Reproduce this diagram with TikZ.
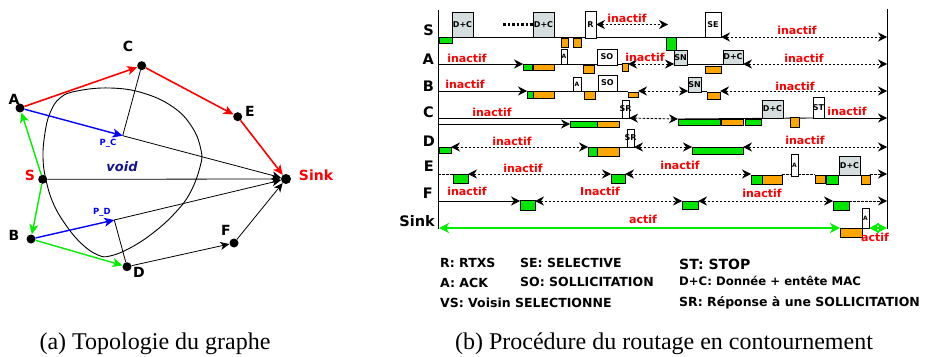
\documentclass[tikz,border=0pt]{standalone}
\usepackage{fontspec}
\setmainfont{DejaVu Sans}
\newfontfamily\capfont{Liberation Serif}
\usetikzlibrary{arrows.meta,backgrounds}
\definecolor{gG}{RGB}{0,230,0}
\definecolor{gL}{RGB}{0,240,0}
\definecolor{oO}{RGB}{250,165,0}
\definecolor{bG}{RGB}{213,222,222}
\definecolor{rR}{RGB}{255,0,0}
\definecolor{nv}{RGB}{20,20,140}
\definecolor{bl}{RGB}{0,0,255}
\newcommand\fs[1]{\fontsize{#1}{#1}\selectfont}
\newcommand\bx[7]{%
  \node[#2,minimum width={(#5-#3)*1pt},minimum height={(#6-#4)*1pt}] (#1) at ({(#3+#5)/2},{(#4+#6)/2}) {};
  \if\relax\detokenize{#7}\relax\else\node[btxt] (#1t) at (#1) {#7};\fi}
\begin{document}
\begin{tikzpicture}[x=1pt,y=-1pt,
  dot/.style={circle,fill=black,inner sep=0pt,minimum size=9pt},
  rarr/.style={draw=rR,line width=1.6pt,-{Stealth[length=10pt,width=9pt,inset=2.5pt]}},
  barr/.style={draw=bl,line width=1.4pt,-{Stealth[length=10pt,width=9pt,inset=2.5pt]}},
  garr/.style={draw=gL,line width=1.4pt,-{Stealth[length=10pt,width=9pt,inset=2.5pt]}},
  karr/.style={draw=black,line width=0.8pt,-{Stealth[length=9pt,width=8pt,inset=2.5pt]}},
  thinl/.style={draw=black,line width=0.8pt},
  glab/.style={font=\bfseries\fs{14},inner sep=0pt},
  boxb/.style={draw=black,line width=0.8pt,inner sep=0pt,outer sep=0pt,rectangle},
  gbox/.style={boxb,fill=gG},
  obox/.style={boxb,fill=oO},
  cbox/.style={boxb,fill=bG},
  wbox/.style={boxb,fill=white},
  btxt/.style={font=\bfseries\fs{8},inner sep=0pt},
  base/.style={line width=0.9pt},
  dsh/.style={line width=0.9pt,dash pattern=on 2.5pt off 1.5pt},
  sarr/.style={line width=0.9pt,-{Stealth[length=9pt,width=9pt,inset=3pt]}},
  dsarr/.style={dsh,-{Stealth[length=9pt,width=9pt,inset=3pt]}},
  darr/.style={dsh,{Stealth[length=9pt,width=9pt,inset=3pt]}-{Stealth[length=9pt,width=9pt,inset=3pt]}},
  ddots/.style={line width=2.5pt,dash pattern=on 2.5pt off 2pt},
  gK/.style={draw=gL,line width=2pt,{Stealth[length=10pt,width=10pt,inset=3pt]}-{Stealth[length=10pt,width=10pt,inset=3pt]}},
  ina/.style={font=\bfseries\fs{11},text=rR,anchor=base,inner sep=0pt},
  rl/.style={font=\bfseries\fs{14.5},anchor=east,inner sep=0pt},
  leg/.style={font=\bfseries\fs{12.5},anchor=west,inner sep=0pt},
  capt/.style={font=\capfont\fs{24},anchor=base,inner sep=0pt}]
\useasboundingbox (0,0) rectangle (926,356);

% ---------------- left graph ----------------
\draw[line width=0.9pt] plot[smooth cycle,tension=0.7] coordinates {(110,88) (143,93) (173,107) (192,127) (201,150) (200,167) (190,193) (175,213) (153,233) (130,248) (110,256) (98,255) (83,245) (68,228) (54,205) (46,180) (43,157) (45,133) (50,113) (60,98) (77,91)};
\node[dot] (A) at (20,108) {};
\node[dot] (C) at (141.7,65.7) {};
\node[dot] (E) at (237.7,116.7) {};
\node[dot,minimum size=10pt] (Sk) at (286,179) {};
\node[dot] (S) at (42.7,179.3) {};
\node[dot] (B) at (31,239) {};
\node[dot] (D) at (127,266.7) {};
\node[dot] (F) at (234,243) {};
\coordinate (PC) at (122.7,135.7);
\coordinate (PD) at (114.3,220);
\draw[thinl] (PC) -- (C);
\draw[thinl] (PD) -- (D);
\draw[karr] (PC) -- (Sk);
\draw[karr] (S) -- (Sk);
\draw[karr] (PD) -- (Sk);
\draw[karr] (D) -- (F);
\draw[karr] (F) -- (Sk);
\draw[rarr] (A) -- (C);
\draw[rarr] (C) -- (E);
\draw[rarr] (E) -- (Sk);
\draw[barr] (A) -- (PC);
\draw[barr] (B) -- (PD);
\draw[garr] (S) -- (A);
\draw[garr] (S) -- (B);
\draw[garr] (B) -- (D);
\node[glab] (lC) at (128,46) {C};
\node[glab] (lA) at (14,99) {A};
\node[glab] (lE) at (250,111) {E};
\node[glab,text=rR] (lSk) at (316,175) {Sink};
\node[glab,text=rR] (lS) at (30,175) {S};
\node[glab] (lB) at (14,235) {B};
\node[glab] (lD) at (139,272) {D};
\node[glab] (lF) at (226,230) {F};
\node[font=\bfseries\itshape\fs{13},text=nv,inner sep=0pt] (lvoid) at (122,167) {void};
\node[font=\bfseries\fs{8.5},text=bl,inner sep=0pt] (lPC) at (108,143) {P\_C};
\node[font=\bfseries\fs{8.5},text=bl,inner sep=0pt] (lPD) at (102,212) {P\_D};

% ---------------- timeline ----------------
\coordinate (axT) at (438,10); \coordinate (axB) at (438,229);
\coordinate (axT2) at (887,9); \coordinate (axB2) at (887,229);
\node[rl] (rS) at (434,30) {S};
\node[rl] (rA) at (434,59) {A};
\node[rl] (rB) at (434,86) {B};
\node[rl] (rC) at (434,112) {C};
\node[rl] (rD) at (435,141) {D};
\node[rl] (rE) at (434,166) {E};
\node[rl] (rF) at (433,193) {F};
\node[rl] (rK) at (435,221) {Sink};

% S row
\coordinate (S0) at (438,37); \coordinate (S1) at (887,37);
\coordinate (Sdot) at (503,24.5); \coordinate (Sm) at (668,24.5);
\bx{sg1}{gbox}{439}{37}{452}{43}{}
\bx{sdc1}{cbox}{452}{12}{473}{37}{D+C}
\bx{sdc2}{cbox}{533}{12}{554}{37}{D+C}
\bx{so1}{obox}{561}{38}{568}{47}{}
\bx{so2}{obox}{573}{38}{581}{47}{}
\bx{sR}{wbox}{585}{11}{596}{38}{R}
\bx{sg2}{gbox}{666}{37}{676}{50}{}
\bx{sSE}{wbox}{705}{12}{721}{37}{SE}
\node[ina] (iS1) at (627,22) {inactif};
\node[ina] (iS2) at (797,34) {inactif};

% A row
\coordinate (A0) at (438,64); \coordinate (A1) at (887,64);
\bx{ag1}{gbox}{523}{64}{532}{70}{}
\bx{ao1}{obox}{533}{64}{554}{70}{}
\bx{aA}{wbox}{561}{49}{567}{64}{{\fs{6}A}}
\bx{ao2}{obox}{583}{65}{594}{73}{}
\bx{aSO}{wbox}{597}{49}{617}{65}{SO}
\bx{ao3}{obox}{622}{63}{628}{71}{}
\bx{aSN}{cbox}{674}{50}{687}{65}{SN}
\bx{ao4}{obox}{705}{66}{721}{73}{}
\bx{aDC}{cbox}{723}{50}{743}{64}{D+C}
\node[ina] (iA1) at (467,62) {inactif};
\node[ina] (iA2) at (645,61) {inactif};
\node[ina] (iA3) at (804,62) {inactif};

% B row
\coordinate (B0) at (438,91); \coordinate (B1) at (887,91);
\bx{bg1}{gbox}{527}{91}{533}{98}{}
\bx{bo1}{obox}{533}{91}{554}{98}{}
\bx{bA}{wbox}{573}{77}{581}{91}{{\fs{6}A}}
\bx{bo2}{obox}{584}{91}{595}{99}{}
\bx{bSO}{wbox}{598}{75}{617}{91}{SO}
\bx{bo3}{obox}{628}{92}{638}{97}{}
\bx{bSN}{cbox}{688}{77}{701}{92}{SN}
\bx{bo4}{obox}{707}{92}{720}{99}{}
\node[ina] (iB1) at (465,88) {inactif};
\node[ina] (iB2) at (795,90) {inactif};

% C row
\coordinate (C0) at (438,118); \coordinate (C0b) at (438,124); \coordinate (C1) at (887,118);
\bx{cg1}{gbox}{570}{121}{597}{127}{}
\bx{co1}{obox}{597}{121}{619}{127}{}
\bx{cSR}{wbox}{622}{100}{629}{118}{SR}
\bx{cg2}{gbox}{678}{119}{720}{125}{}
\bx{co2}{obox}{721}{119}{743}{125}{}
\bx{cg3}{gbox}{745}{119}{761}{125}{}
\bx{cDC}{cbox}{762}{100}{783}{118}{D+C}
\bx{co3}{obox}{790}{117}{799}{127}{}
\bx{cST}{wbox}{813}{97}{824}{118}{ST}
\node[ina] (iC1) at (492,116) {inactif};
\node[ina] (iC2) at (847,115) {inactif};

% D row
\coordinate (D0) at (438,147); \coordinate (D1) at (887,147);
\bx{dg1}{gbox}{439}{147}{451}{153}{}
\bx{dg2}{gbox}{588}{147}{597}{156}{}
\bx{do1}{obox}{597}{147}{619}{156}{}
\bx{dSR}{wbox}{627}{129}{634}{147}{SR}
\bx{dg3}{gbox}{692}{147}{743}{154}{}
\node[ina] (iD1) at (512,145) {inactif};
\node[ina] (iD2) at (805,144) {inactif};

% E row
\coordinate (E0) at (438,174); \coordinate (E1) at (887,174);
\bx{eg1}{gbox}{453}{174}{468}{183}{}
\bx{eg2}{gbox}{611}{174}{625}{183}{}
\bx{eg3}{gbox}{751}{175}{762}{184}{}
\bx{eo1}{obox}{762}{175}{782}{184}{}
\bx{eA}{wbox}{791}{154}{798}{176}{{\fs{6}A}}
\bx{eo2}{obox}{815}{175}{825}{183}{}
\bx{eg4}{gbox}{826}{175}{838}{184}{}
\bx{eDC}{cbox}{839}{156}{860}{175}{D+C}
\bx{eo3}{obox}{861}{175}{870}{184}{}
\node[ina] (iE1) at (523,172) {inactif};
\node[ina] (iE2) at (680,169) {inactif};

% F row
\coordinate (F0) at (438,201); \coordinate (F1) at (887,201);
\bx{fg1}{gbox}{520}{200}{535}{210}{}
\bx{fg2}{gbox}{682}{201}{698}{209}{}
\bx{fg3}{gbox}{833}{201}{849}{210}{}
\node[ina] (iF1) at (467,195) {inactif};
\node[ina] (iF2) at (600,195) {Inactif};
\node[ina] (iF3) at (762,197) {inactif};

% Sink row
\coordinate (K0) at (439,228); \coordinate (K1) at (887,228);
\bx{ko}{obox}{840}{228}{862}{237}{}
\bx{kA}{wbox}{862}{208}{869}{228}{{\fs{6}A}}
\node[ina] (iK1) at (643,223) {actif};
\node[ina] (iK2) at (875,241) {actif};

\begin{scope}[on background layer]
  \fill[white] (0,0) rectangle (926,356);
  \draw[line width=1pt] (axT) -- (axB);
  \draw[line width=1pt] (axT2) -- (axB2);
  % S
  \draw[base] (S0) -- (sSE.south west);
  \draw[ddots] (Sdot) -- (sdc2.west);
  \draw[darr] (sR.east) -- (Sm);
  \draw[darr] (sSE.south east) -- (S1);
  % A
  \draw[sarr] (A0) -- (ag1.north west);
  \draw[base] (ao1.north east) -- (ao3.west |- A0);
  \draw[darr] (ao3.east |- A0) -- (aSN.west |- A0);
  \draw[base] (aSN.east |- A0) -- (aDC.south west);
  \draw[darr] (aDC.south east) -- (A1);
  % B
  \draw[sarr] (B0) -- (bg1.north west);
  \draw[base] (bo1.north east) -- (bo3.west |- B0);
  \draw[darr] (bo3.east |- B0) -- (bSN.west |- B0);
  \draw[base] (bSN.east |- B0) -- (bo4.west |- B0);
  \draw[darr] (bo4.east |- B0) -- (B1);
  % C
  \draw[base] (C0) -- (cSR.south west);
  \draw[sarr] (C0b) -- (cg1.west);
  \draw[darr] (cSR.south east) -- (cg2.north west);
  \draw[base] (cg2.north west) -- (cST.south west);
  \draw[sarr] (cST.south east) -- (C1);
  % D
  \draw[base] (D0) -- (dg1.north west);
  \draw[darr] (dg1.north east) -- (dg2.north west);
  \draw[base] (do1.north east) -- (dSR.south west);
  \draw[darr] (dSR.south east) -- (dg3.north west);
  \draw[darr] (dg3.north east) -- (D1);
  % E
  \draw[dsh] (E0) -- (eg1.north west);
  \draw[darr] (eg1.north east) -- (eg2.north west);
  \draw[darr] (eg2.north east) -- (eg3.west |- E0);
  \draw[dsh] (eo1.east |- E0) -- (eA.west |- E0);
  \draw[dsh] (eA.east |- E0) -- (eo2.west |- E0);
  \draw[dsarr] (eo3.east |- E0) -- (E1);
  % F
  \draw[sarr] (F0) -- (fg1.west |- F0);
  \draw[darr] (fg1.east |- F0) -- (fg2.north west);
  \draw[darr] (fg2.north east) -- (fg3.north west);
  \draw[dsarr] (fg3.north east) -- (F1);
  % Sink
  \draw[gK] (K0) -- (ko.north west);
  \draw[gK] (kA.south east) -- (K1);
\end{scope}

% legend
\node[leg] (g1) at (440,263) {R: RTXS};
\node[leg] (g2) at (520,263) {SE: SELECTIVE};
\node[leg,font=\bfseries\fs{14}] (g3) at (679,264) {ST: STOP};
\node[leg] (g4) at (440,283) {A: ACK};
\node[leg] (g5) at (520,282) {SO: SOLLICITATION};
\node[leg,font=\bfseries\fs{11.7}] (g6) at (679,281) {D+C: Donnée + entête MAC};
\node[leg] (g7) at (440,303) {VS: Voisin SELECTIONNE};
\node[leg] (g8) at (679,303) {SR: Réponse à une SOLLICITATION};

% captions
\node[capt] (capA) at (155,349) {(a) Topologie du graphe};
\node[capt] (capB) at (664,349) {(b) Procédure du routage en contournement};
\end{tikzpicture}
\end{document}
